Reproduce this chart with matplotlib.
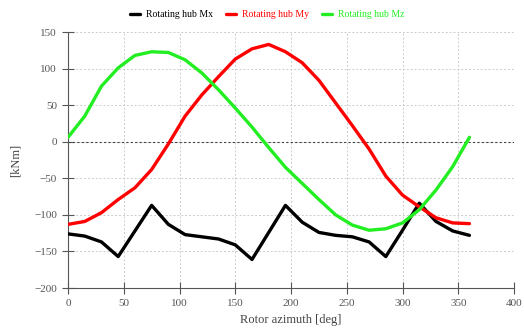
import matplotlib

matplotlib.use("Agg")
import matplotlib.pyplot as plt
import numpy as np

# rotor azimuth [deg], sampled every 15 deg
azimuth = np.arange(0, 361, 15)

hub_mx = [-126, -129, -137, -157, -122, -87, -113, -127, -130, -133, -141, -161, -124,
          -87, -110, -124, -128, -130, -137, -157, -121, -84, -109, -122, -128]
hub_my = [-113, -109, -97, -79, -63, -38, -3, 35, 64, 89, 113, 127, 133,
          123, 108, 84, 53, 22, -10, -47, -73, -89, -104, -111, -112]
hub_mz = [6, 35, 76, 101, 118, 123, 122, 112, 94, 71, 46, 20, -8,
          -35, -57, -79, -100, -114, -121, -119, -111, -93, -66, -34, 6]

labels = ["Rotating hub Mx", "Rotating hub My", "Rotating hub Mz"]
colors = ["#000000", "#ff0000", "#22ee22"]

plt.rcParams["font.family"] = ["Liberation Serif", "DejaVu Serif"]

fig = plt.figure(figsize=(5.24, 3.29), dpi=100)
ax = fig.add_axes([0.1298, 0.1246, 0.8512, 0.7781])

for y, lab, col in zip([hub_mx, hub_my, hub_mz], labels, colors):
    ax.plot(azimuth, y, color=col, lw=2.4, label=lab, solid_capstyle="round", zorder=3)

ax.axhline(0, color="#444444", lw=0.8, ls=(0, (2, 2)), zorder=2)

ax.set_xlim(0, 400)
ax.set_ylim(-200, 150)
ax.set_xticks(np.arange(0, 401, 50))
ax.set_yticks(np.arange(-200, 151, 50))
ax.grid(True, color="#cccccc", lw=0.7, ls=(0, (2, 2)))
for s in ["top", "right"]:
    ax.spines[s].set_visible(False)
for s in ["left", "bottom"]:
    ax.spines[s].set_color("#555555")
ax.tick_params(direction="inout", length=9, width=0.8, color="#555555",
               labelsize=8, labelcolor="#555555")
ax.set_xlabel("Rotor azimuth [deg]", fontsize=9, color="#444444")
ax.set_ylabel("[kNm]", fontsize=9, color="#444444", labelpad=4)
ax.yaxis.set_label_coords(-0.105, 0.5)

handles, _ = ax.get_legend_handles_labels()
leg = fig.legend(handles, labels, loc="center", bbox_to_anchor=(0.51, 0.955), ncol=3,
                 frameon=False, fontsize=7, handlelength=1.0, columnspacing=1.4,
                 handletextpad=0.6)
for txt, col in zip(leg.get_texts(), colors):
    txt.set_color(col)

fig.savefig("out.png", dpi=100)
